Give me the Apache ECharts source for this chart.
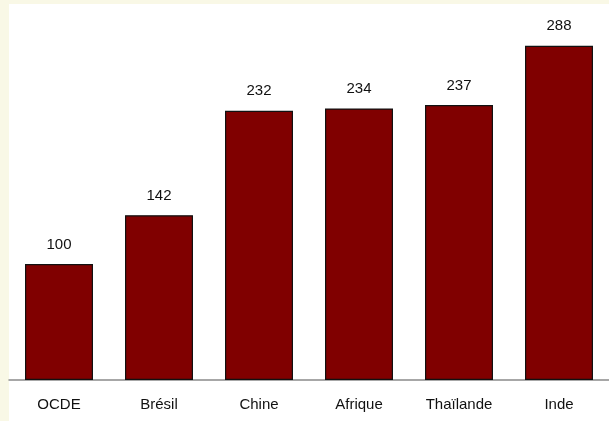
<!DOCTYPE html>
<html>
<head>
<meta charset="utf-8">
<script src="https://cdn.jsdelivr.net/npm/echarts@6/dist/echarts.min.js"></script>
<style>
  html, body { margin: 0; padding: 0; background: #F9F8E6; }
  #chart { width: 609px; height: 421px; }
</style>
</head>
<body>
<div id="chart"></div>
<script>
// Index values by region (OCDE = 100)
const categories = ['OCDE', 'Brésil', 'Chine', 'Afrique', 'Thaïlande', 'Inde'];
const values = [100, 142, 232, 234, 237, 288];

const chart = echarts.init(document.getElementById('chart'));
chart.setOption({
  backgroundColor: '#F9F8E6',
  animation: false,
  graphic: [{
    type: 'rect',
    z: -10,
    shape: { x: 9, y: 4, width: 600, height: 417 },
    style: { fill: '#ffffff' }
  }],
  grid: { left: 9, top: 4, width: 603, bottom: 41, containLabel: false },
  xAxis: {
    type: 'category',
    data: categories,
    axisLine: { show: true, lineStyle: { color: '#8a8a8a', width: 1.5 } },
    axisTick: { show: false },
    axisLabel: { color: '#111', fontFamily: 'Liberation Sans, Arial', fontSize: 15, margin: 17 }
  },
  yAxis: {
    type: 'value',
    min: 0,
    max: 324,
    show: false,
    splitLine: { show: false }
  },
  series: [{
    type: 'bar',
    data: values,
    barWidth: 68,
    itemStyle: { color: '#800000', borderColor: '#111', borderWidth: 1.2 },
    label: {
      show: true,
      position: 'top',
      distance: 12,
      color: '#111',
      fontFamily: 'Liberation Sans, Arial',
      fontSize: 15
    }
  }]
});
</script>
</body>
</html>
